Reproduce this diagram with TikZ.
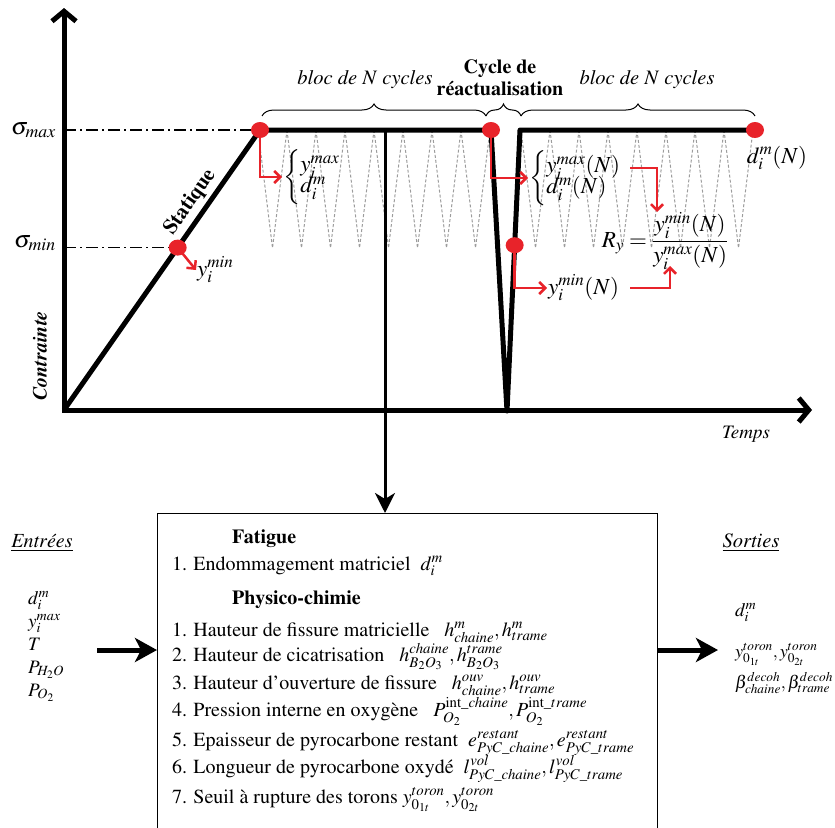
\documentclass[tikz,border=0pt]{standalone}
\usepackage[T1]{fontenc}
\usepackage{amsmath}
\usepackage{mathptmx}
\usetikzlibrary{arrows.meta, calc, decorations.pathreplacing, positioning}
\definecolor{probeRed}{HTML}{E8232A}
\definecolor{waveGray}{HTML}{9C9C9C}
\tikzset{
  axis/.style={line width=5pt, {Straight Barb[length=10pt,width=24pt]}-{Straight Barb[length=10pt,width=24pt]}},
  load/.style={line width=5pt, line join=round},
  guide/.style={line width=1.3pt, dash pattern=on 12pt off 4pt on 2pt off 4pt},
  wave/.style={waveGray, line width=1pt, dash pattern=on 3pt off 2pt},
  probe/.style={probeRed, line width=2.5pt, -{Straight Barb[length=6pt,width=12pt]}},
  feed/.style={line width=5pt, -{Stealth[length=22pt,width=24pt,inset=6pt]}},
  topbrace/.style={decorate, decoration={brace, amplitude=12pt}, line width=1pt},
  lbl/.style={font=\fontsize{23}{26}\selectfont, inner sep=1pt},
  small/.style={font=\fontsize{19}{22}\selectfont, inner sep=0pt, anchor=base west},
  body/.style={font=\fontsize{20}{24}\selectfont, inner sep=0pt, anchor=base west},
  head/.style={body, font=\fontsize{20}{24}\selectfont\bfseries},
}

\begin{document}
\begin{tikzpicture}[x=1pt, y=-1pt]
    \useasboundingbox (0,0) rectangle (835,827);
    \clip (0,0) rectangle (835,827);

    \coordinate (O) at (64,410);
    \coordinate (ytip) at (64,8);
    \coordinate (xtip) at (812,410);
    \coordinate (P1) at (260,130);
    \coordinate (P2) at (491,130);
    \coordinate (V) at (507,411);
    \coordinate (P3) at (520,130);
    \coordinate (P4) at (755,130);
    \coordinate (Pmin) at ($(O)!0.58!(P1)$);
    \coordinate (Pmin2) at ($(V)!0.59!(P3)$);
    \coordinate (split) at (385,130);

    % cycles
    \foreach \k in {0,...,7}
        \draw[wave] (258+29*\k,130) -- (272.5+29*\k,248) -- (287+29*\k,130);
    \foreach \k in {0,...,7}
        \draw[wave] (521+29*\k,130) -- (535.5+29*\k,248) -- (550+29*\k,130);

    \draw[guide] (O |- P1) -- (P1);
    \draw[guide] (O |- Pmin) -- (Pmin);
    \node[lbl, font=\fontsize{24}{28}\selectfont, anchor=east] (smax) at (57,130) {$\sigma_{max}$};
    \node[lbl, font=\fontsize{24}{28}\selectfont, anchor=east] (smin) at (57,243) {$\sigma_{min}$};

    \draw[axis] (ytip) -- (O) -- (xtip);
    \node[font=\fontsize{20}{24}\selectfont\bfseries\itshape, rotate=90] (ylab) at (40,356) {Contrainte};
    \node[font=\fontsize{19}{22}\selectfont\itshape] (xlab) at (746,434) {Temps};

    \draw[load] (O) -- (P1) node[pos=0.71, sloped, above, inner sep=4pt, font=\fontsize{21}{24}\selectfont\bfseries] (stat) {Statique}
        -- (P2) -- (V) -- (P3) -- (P4);

    % box
    \node[draw, line width=1.3pt, minimum width=500pt, minimum height=340pt, anchor=north west] (model) at (157,513) {};
    \draw[line width=3pt, -{Stealth[length=20pt,width=20pt,inset=6pt]}] (split) -- (split |- model.north);

    % braces
    \draw[topbrace] (262,116) -- (486,116);
    \draw[topbrace] (486,116) -- (521,116);
    \draw[topbrace] (521,116) -- (755,116);
    \node[font=\fontsize{20.5}{24}\selectfont\itshape] (bloc1) at (365,80) {bloc de $N$ cycles};
    \node[font=\fontsize{20.5}{24}\selectfont\itshape] (bloc2) at (647,80) {bloc de $N$ cycles};
    \node[font=\fontsize{20}{22}\selectfont\bfseries, align=center] (reac) at (500,78) {Cycle de\\r\'eactualisation};

    % probes
    \node[lbl, anchor=west] (lmax) at (282,177) {$\left\{\begin{array}{@{}l@{}} y_i^{max}\\[-5pt] d_i^m\end{array}\right.$};
    \node[lbl, anchor=west] (lmaxN) at (528,178) {$\left\{\begin{array}{@{}l@{}} y_i^{max}(N)\\[-5pt] d_i^m(N)\end{array}\right.$};
    \node[lbl, anchor=west] (ymin) at (196,270) {$y_i^{min}$};
    \node[lbl, anchor=west] (yminN) at (547,288) {$y_i^{min}(N)$};
    \node[lbl] (dN) at (777,158) {$d_i^m(N)$};
    \node[lbl] (ratio) at (665,241) {$R_y=\dfrac{y_i^{min}(N)}{y_i^{max}(N)}$};
    \coordinate (hookA) at (630,168);
    \coordinate (numTop) at (657,212);
    \coordinate (hookB) at (630,288);
    \coordinate (denBot) at (670,266);

    \draw[probe] (P1) |- (lmax.west);
    \draw[probe] (P2) |- (lmaxN.west);
    \draw[probe] (Pmin) -- (ymin.west);
    \draw[probe] (Pmin2) |- (yminN.west);
    \draw[probe] (hookA) -| (numTop);
    \draw[probe] (hookB) -| (denBot);

    \foreach \p in {P1,P2,P4,Pmin,Pmin2}
        \fill[probeRed] (\p) ellipse (9 and 8);

    % inputs / outputs
    \node[font=\fontsize{20}{24}\selectfont\itshape] (inTitle) at (42,543) {\underline{Entr\'ees}};
    \node[font=\fontsize{20.5}{24}\selectfont\itshape] (outTitle) at (751,543) {\underline{Sorties}};
    \foreach \t [count=\i] in {{$d_i^m$},{$y_i^{max}$},{$T$},{$P_{H_2O}$},{$P_{O_2}$}}
        \node[small] (in\i) at (28,581+23*\i) {\t};
    \coordinate (feedIn) at (97,650);
    \coordinate (feedOut) at (718,650);
    \draw[feed] (feedIn) -- (feedIn -| model.west);
    \draw[feed] (feedOut -| model.east) -- (feedOut);
    \node[small] (out1) at (735,616) {$d_i^m$};
    \node[small, font=\fontsize{18}{22}\selectfont] (out2) at (735,657) {$y^{toron}_{0_{1t}},y^{toron}_{0_{2t}}$};
    \node[small, font=\fontsize{18}{22}\selectfont] (out3) at (735,688) {$\beta^{decoh}_{chaine},\beta^{decoh}_{trame}$};

    % model text
    \node[head] (fat) at (232,543) {Fatigue};
    \node[body] (f1) at (172,570) {1. Endommagement matriciel\ \ $d_i^m$};
    \node[head] (phys) at (232,604) {Physico-chimie};
    \node[body] (c1) at (172,636) {1. Hauteur de fissure matricielle\ \ \ $h^m_{chaine}, h^m_{trame}$};
    \node[body] (c2) at (172,661) {2. Hauteur de cicatrisation\ \ \ $h^{chaine}_{B_2O_3}, h^{trame}_{B_2O_3}$};
    \node[body] (c3) at (172,689) {3. Hauteur d'ouverture de fissure\ \ \ $h^{ouv}_{chaine}, h^{ouv}_{trame}$};
    \node[body] (c4) at (172,716) {4. Pression interne en oxyg\`ene\ \ \ $P^{\mathrm{int}\_chaine}_{O_2}, P^{\mathrm{int}\_trame}_{O_2}$};
    \node[body] (c5) at (172,746) {5. Epaisseur de pyrocarbone restant\ \ $e^{restant}_{PyC\_chaine}, e^{restant}_{PyC\_trame}$};
    \node[body] (c6) at (172,773) {6. Longueur de pyrocarbone oxyd\'e\ \ $l^{vol}_{PyC\_chaine}, l^{vol}_{PyC\_trame}$};
    \node[body] (c7) at (172,803) {7. Seuil \`a rupture des torons $y^{toron}_{0_{1t}},y^{toron}_{0_{2t}}$};
\end{tikzpicture}
\end{document}
